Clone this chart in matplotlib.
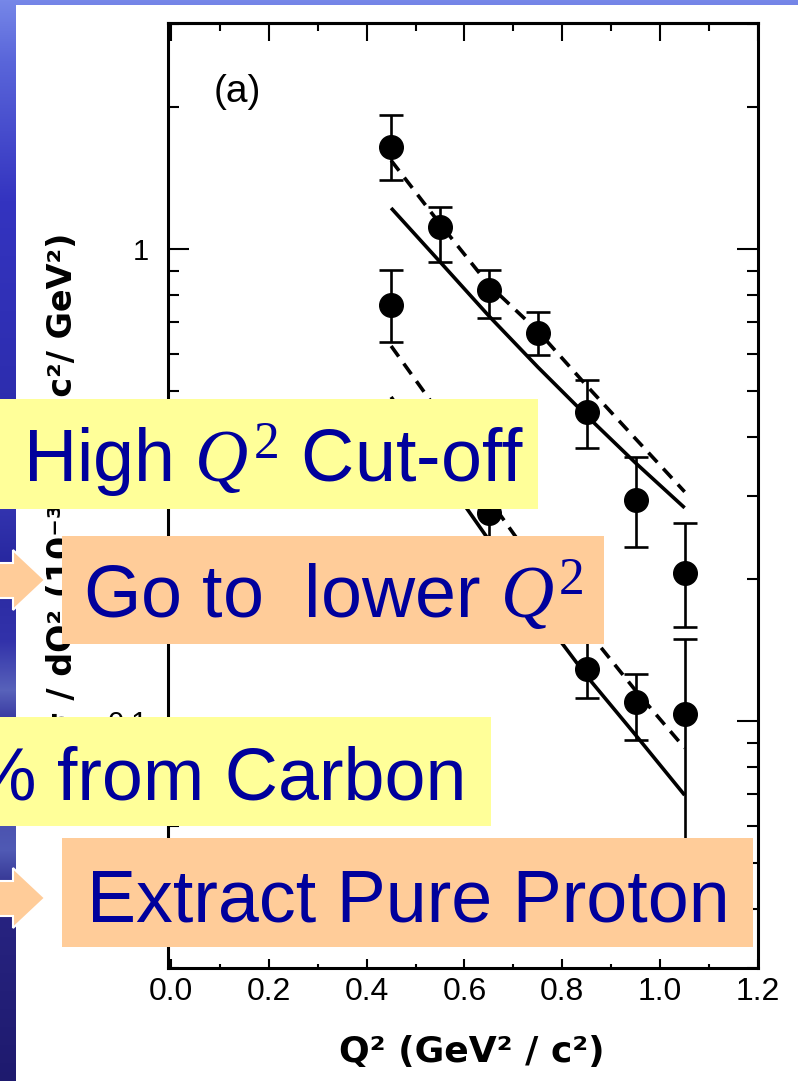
import matplotlib
matplotlib.use("Agg")
import matplotlib.pyplot as plt
import numpy as np
from matplotlib.patches import Rectangle, Polygon
from matplotlib.ticker import FixedLocator, LogLocator, MultipleLocator, NullFormatter

W, H = 798, 1081

plt.rcParams["font.family"] = ["Liberation Sans", "DejaVu Sans"]
plt.rcParams["xtick.labelsize"] = 23
plt.rcParams["ytick.labelsize"] = 21
plt.rcParams["mathtext.fontset"] = "custom"
plt.rcParams["mathtext.it"] = "Liberation Serif:italic"
plt.rcParams["mathtext.rm"] = "Liberation Serif"

# Q^2 bins (GeV^2/c^2)
q2 = [0.45, 0.55, 0.65, 0.75, 0.85, 0.95, 1.05]

# measured cross sections, upper set
upper = [1.645, 1.113, 0.819, 0.664, 0.452, 0.294, 0.206]
upper_hi = [1.923, 1.227, 0.903, 0.735, 0.528, 0.363, 0.263]
upper_lo = [1.40, 0.939, 0.714, 0.596, 0.379, 0.234, 0.158]

# measured cross sections, lower set
lower = [0.761, 0.42, 0.276, 0.189, 0.129, 0.110, 0.1035]
lower_hi = [0.903, 0.47, 0.32, 0.22, 0.149, 0.126, 0.149]
lower_lo = [0.635, 0.37, 0.24, 0.16, 0.112, 0.0911, 0.046]

# model curves
upper_solid = [1.221, 0.939, 0.721, 0.562, 0.443, 0.352, 0.283]
upper_dash = [1.54, 1.13, 0.839, 0.670, 0.513, 0.396, 0.306]
lower_solid = [0.486, 0.340, 0.2417, 0.171, 0.1245, 0.0934, 0.0697]
lower_dash = [0.623, 0.447, 0.2954, 0.211, 0.156, 0.116, 0.0877]

BLUE = "#00009C"
YELLOW = "#FFFF99"
PEACH = "#FFCC99"


def px(x, y):
    return x / W, 1 - y / H


fig = plt.figure(figsize=(W / 100, H / 100), dpi=100)

# slide background: blue gradient with a white panel on top
bg = fig.add_axes([0, 0, 1, 1], zorder=-10)
stops_y = [0, 60, 200, 420, 470, 560, 640, 690, 720, 850, 900, 1081]
stops_c = np.array([
    (118, 135, 232), (90, 102, 218), (52, 52, 192), (44, 44, 172),
    (58, 60, 186), (40, 40, 160), (50, 50, 170), (88, 98, 186),
    (55, 55, 160), (80, 90, 180), (40, 36, 130), (30, 26, 110),
]) / 255.0
rows = np.arange(H)
grad = np.stack([np.interp(rows, stops_y, stops_c[:, k]) for k in range(3)], axis=-1)
bg.imshow(grad[:, None, :], aspect="auto", extent=[0, 1, 0, 1], origin="upper")
bg.add_patch(Rectangle((16 / W, 0), 1 - 16 / W, 1 - 5 / H, facecolor="white",
                       edgecolor="none", transform=bg.transAxes))
bg.set_axis_off()

ax = fig.add_axes([168 / W, 1 - 968 / H, (758 - 168) / W, (968 - 23) / H])
ax.set_facecolor("none")
ax.set_yscale("log")
ax.set_xlim(-0.0061, 1.2)
ax.set_ylim(0.030, 3.01)

ax.plot(q2, upper_solid, color="k", lw=2.6, solid_capstyle="butt")
ax.plot(q2, upper_dash, color="k", lw=2.6, dashes=(3.6, 2.4))
ax.plot(q2, lower_solid, color="k", lw=2.6, solid_capstyle="butt")
ax.plot(q2, lower_dash, color="k", lw=2.6, dashes=(3.6, 2.4))

for vals, hi, lo in [(upper, upper_hi, upper_lo), (lower, lower_hi, lower_lo)]:
    v = np.array(vals)
    yerr = [v - np.array(lo), np.array(hi) - v]
    ax.errorbar(q2, v, yerr=yerr, fmt="o", color="k", ms=17, capsize=8.6,
                elinewidth=1.9, capthick=1.9, zorder=4)

for s in ax.spines.values():
    s.set_linewidth(2.2)

ax.xaxis.set_major_locator(MultipleLocator(0.2))
ax.xaxis.set_minor_locator(MultipleLocator(0.1))
ax.xaxis.set_major_formatter(matplotlib.ticker.FormatStrFormatter("%.1f"))
ax.yaxis.set_major_locator(FixedLocator([0.1, 1]))
ax.yaxis.set_major_formatter(matplotlib.ticker.FixedFormatter(["0.1", "1"]))
ax.yaxis.set_minor_locator(LogLocator(base=10, subs=np.arange(2, 10)))
ax.yaxis.set_minor_formatter(NullFormatter())

ax.tick_params(axis="x", which="major", direction="in", length=6.5, width=1.5,
               pad=6.5, top=False)
ax.tick_params(axis="x", which="minor", direction="in", length=3, width=1.5, top=False)
ax.tick_params(axis="y", which="major", direction="in", length=15, width=1.5,
               pad=14, right=True)
ax.tick_params(axis="y", which="minor", direction="in", length=8, width=1.5, right=True)

top = ax.secondary_xaxis("top")
top.xaxis.set_major_locator(MultipleLocator(0.2))
top.xaxis.set_minor_locator(MultipleLocator(0.1))
top.tick_params(which="major", direction="in", length=13, width=1.5, labeltop=False)
top.tick_params(which="minor", direction="in", length=6, width=1.5)
top.spines["top"].set_linewidth(2.2)

ax.text(0.117, 0.927, "(a)", transform=ax.transAxes, fontsize=28,
        ha="center", va="center")

fig.text(*px(472, 1052), "Q\u00b2 (GeV\u00b2 / c\u00b2)", fontsize=26, fontweight="bold",
         family=["DejaVu Sans"], ha="center", va="center")
fig.text(*px(62, 233), "d\u03c3 / dQ\u00b2 (10\u207b\u00b3\u2079 cm\u00b2 c\u00b2/ GeV\u00b2)",
         fontsize=24, fontweight="bold", family=["DejaVu Sans"], rotation=90,
         ha="center", va="top")

# annotation boxes laid over the plot
boxes = [
    (0, 399, 538, 509, YELLOW),
    (62, 536, 604, 644, PEACH),
    (0, 717, 491, 826, YELLOW),
    (62, 838, 753, 947, PEACH),
]
for x0, y0, x1, y1, col in boxes:
    fig.add_artist(Rectangle(px(x0, y1), (x1 - x0) / W, (y1 - y0) / H,
                             transform=fig.transFigure, facecolor=col,
                             edgecolor="none", zorder=5))

for dy in (0, 318):
    pts = [(-5, 563 + dy), (13, 563 + dy), (13, 550 + dy), (45, 580 + dy),
           (13, 610 + dy), (13, 598 + dy), (-5, 598 + dy)]
    fig.add_artist(Polygon([px(x, y) for x, y in pts], closed=True,
                           transform=fig.transFigure, facecolor=PEACH,
                           edgecolor="white", lw=1.5, zorder=5))

labels = [
    (23, 482, "High $Q^{\\mathrm{2}}$ Cut-off"),
    (83, 618, "Go to  lower $Q^{\\mathrm{2}}$"),
    (-29, 800, "% from Carbon"),
    (87, 922, "Extract Pure Proton"),
]
for x, y, s in labels:
    fig.text(*px(x, y), s, fontsize=53, color=BLUE, family="Liberation Sans",
             ha="left", va="baseline", zorder=6)

fig.savefig("out.png", dpi=100)
